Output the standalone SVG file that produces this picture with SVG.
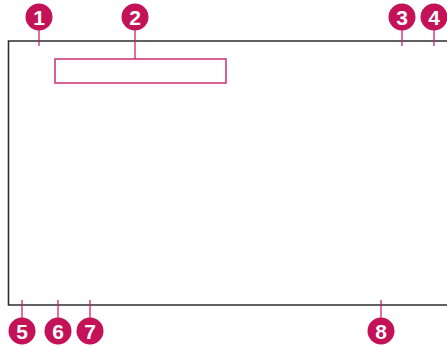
<svg xmlns="http://www.w3.org/2000/svg" width="447" height="346" viewBox="0 0 447 346">
<style>
.frame{fill:none;stroke:#2e2e2e;stroke-width:1.6}
.lead{stroke:#c8135c;stroke-width:1.2;fill:none}
.box{fill:none;stroke:#d03a78;stroke-width:1.6}
.badge circle{fill:#c41259}
.badge text{fill:#fff;font-family:"Liberation Sans",Arial,sans-serif;font-weight:bold;font-size:21px;text-anchor:middle}
</style>
<rect width="447" height="346" fill="#fff"/>
<path class="frame" d="M447,41 H8.5 V305 H447"/>
<rect id="field" class="box" x="55" y="59" width="171" height="24"/>
<g id="connectors">
<line class="lead" x1="39" y1="30" x2="39" y2="46"/>
<line class="lead" x1="135" y1="30" x2="135" y2="59"/>
<line class="lead" x1="402" y1="30" x2="402" y2="46"/>
<line class="lead" x1="434" y1="30" x2="434" y2="46"/>
<line class="lead" x1="22" y1="300" x2="22" y2="319"/>
<line class="lead" x1="58" y1="300" x2="58" y2="319"/>
<line class="lead" x1="90" y1="300" x2="90" y2="319"/>
<line class="lead" x1="381" y1="300" x2="381" y2="319"/>
</g>
<g id="b1" class="badge"><circle cx="39" cy="17" r="13.5"/><text x="39" y="24.5">1</text></g>
<g id="b2" class="badge"><circle cx="135" cy="17" r="13.5"/><text x="135" y="24.5">2</text></g>
<g id="b3" class="badge"><circle cx="402" cy="17" r="13.5"/><text x="402" y="24.5">3</text></g>
<g id="b4" class="badge"><circle cx="434" cy="17" r="13.5"/><text x="434" y="24.5">4</text></g>
<g id="b5" class="badge"><circle cx="22" cy="331" r="13.5"/><text x="22" y="338.5">5</text></g>
<g id="b6" class="badge"><circle cx="58" cy="331" r="13.5"/><text x="58" y="338.5">6</text></g>
<g id="b7" class="badge"><circle cx="90" cy="331" r="13.5"/><text x="90" y="338.5">7</text></g>
<g id="b8" class="badge"><circle cx="381" cy="331" r="13.5"/><text x="381" y="338.5">8</text></g>
</svg>
